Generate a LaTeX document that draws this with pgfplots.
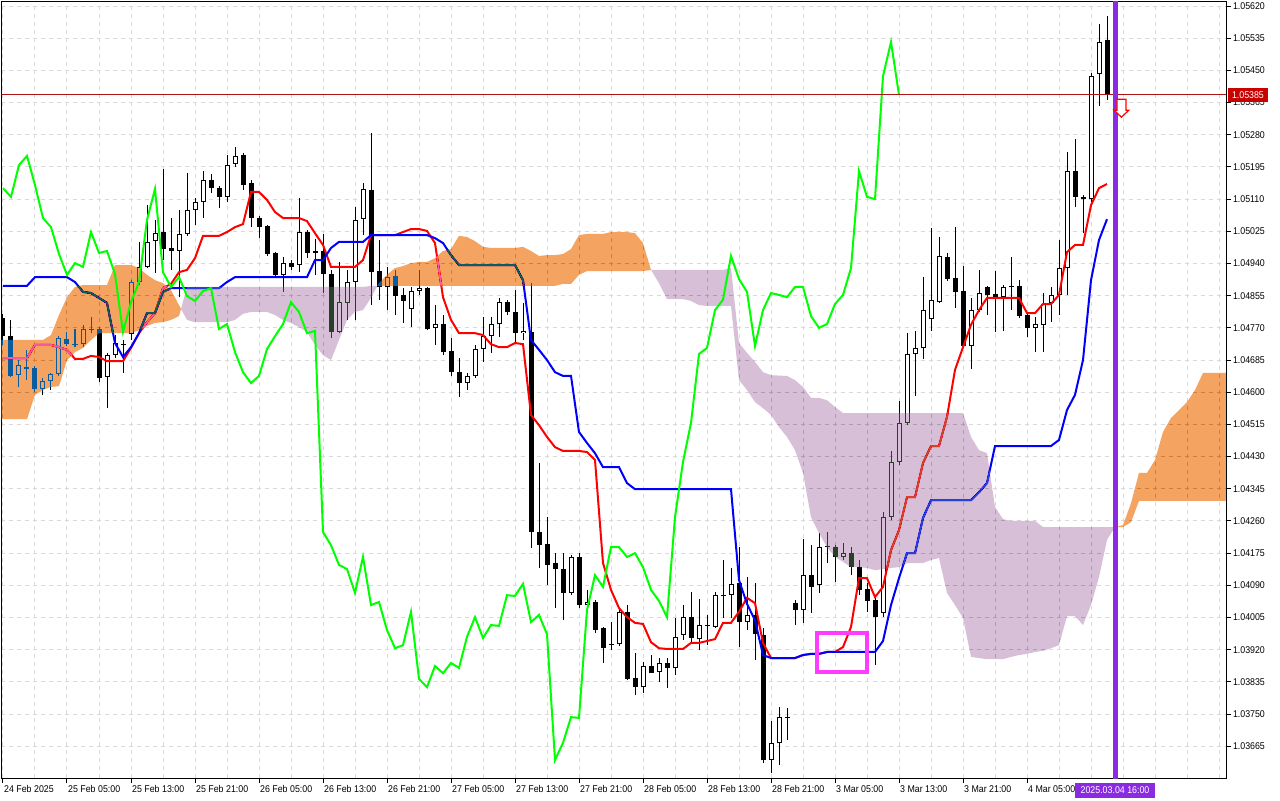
\documentclass[border=0pt]{standalone}
\usepackage{pgfplots}
\pgfplotsset{compat=1.18}
\usepackage{pgfplotstable}
\usepackage{fontspec}
\setmainfont{Liberation Sans}[FakeStretch=0.9]

\definecolor{tenkan}{RGB}{255,0,0}
\definecolor{kijun}{RGB}{0,0,255}
\definecolor{chikou}{RGB}{0,255,0}
% the cloud is drawn in difference mode: these invert to sandy brown / thistle on white
\definecolor{spanA}{RGB}{11,91,159}
\definecolor{spanB}{RGB}{39,64,39}
\definecolor{gridc}{RGB}{218,218,218}
\definecolor{vline}{RGB}{138,43,226}
\definecolor{boxc}{RGB}{255,60,255}
\definecolor{bidline}{RGB}{170,20,20}
\definecolor{bidbox}{RGB}{200,0,0}

\pgfdeclareplotmark{sellarrow}{%
  \pgfpathmoveto{\pgfqpoint{-2.25pt}{0pt}}%
  \pgfpathlineto{\pgfqpoint{2.25pt}{0pt}}%
  \pgfpathlineto{\pgfqpoint{2.25pt}{-5.5pt}}%
  \pgfpathlineto{\pgfqpoint{3.75pt}{-5.5pt}}%
  \pgfpathlineto{\pgfqpoint{0pt}{-9pt}}%
  \pgfpathlineto{\pgfqpoint{-3.75pt}{-5.5pt}}%
  \pgfpathlineto{\pgfqpoint{-2.25pt}{-5.5pt}}%
  \pgfpathclose
  \pgfusepathqfillstroke}

% EURUSD H1, bar 0 = 24 Feb 21:00
\pgfplotstableread{
i o h l c
0 1.04796 1.04807 1.04725 1.04748
1 1.04748 1.04791 1.04640 1.04643
2 1.04645 1.04685 1.04614 1.04672
3 1.04667 1.04711 1.04632 1.04661
4 1.04664 1.04669 1.04601 1.04608
5 1.04608 1.04638 1.04593 1.04630
6 1.04630 1.04651 1.04606 1.04648
7 1.04648 1.04748 1.04643 1.04743
8 1.04741 1.04759 1.04722 1.04727
9 1.04725 1.04767 1.04719 1.04727
10 1.04727 1.04778 1.04719 1.04767
11 1.04764 1.04799 1.04756 1.04767
12 1.04767 1.04772 1.04627 1.04638
13 1.04640 1.04704 1.04558 1.04698
14 1.04698 1.04751 1.04690 1.04730
15 1.04725 1.04738 1.04651 1.04727
16 1.04754 1.04896 1.04738 1.04891
17 1.04891 1.04997 1.04883 1.04931
18 1.04931 1.05094 1.04928 1.04997
19 1.04999 1.05055 1.04915 1.05020
20 1.05023 1.05190 1.04949 1.04978
21 1.04981 1.05060 1.04923 1.04973
22 1.04973 1.05081 1.04851 1.05018
23 1.05018 1.05179 1.05013 1.05081
24 1.05081 1.05113 1.05042 1.05102
25 1.05102 1.05184 1.05060 1.05160
26 1.05160 1.05176 1.05126 1.05139
27 1.05139 1.05145 1.05087 1.05116
28 1.05116 1.05226 1.05102 1.05200
29 1.05203 1.05248 1.05195 1.05224
30 1.05226 1.05232 1.05134 1.05147
31 1.05153 1.05160 1.05036 1.05060
32 1.05060 1.05065 1.05007 1.05036
33 1.05039 1.05042 1.04960 1.04965
34 1.04968 1.04970 1.04904 1.04910
35 1.04910 1.04957 1.04865 1.04941
36 1.04941 1.04949 1.04923 1.04931
37 1.04936 1.05113 1.04917 1.05023
38 1.05023 1.05028 1.04954 1.04968
39 1.04968 1.05005 1.04910 1.04973
40 1.04973 1.05018 1.04862 1.04912
41 1.04912 1.04923 1.04743 1.04759
42 1.04759 1.04944 1.04756 1.04838
43 1.04836 1.04923 1.04791 1.04891
44 1.04891 1.05089 1.04791 1.05055
45 1.05057 1.05153 1.05015 1.05137
46 1.05134 1.05285 1.04830 1.04917
47 1.04920 1.05002 1.04844 1.04878
48 1.04878 1.04931 1.04817 1.04904
49 1.04907 1.04923 1.04804 1.04854
50 1.04857 1.04875 1.04783 1.04841
51 1.04820 1.04878 1.04772 1.04867
52 1.04867 1.04923 1.04857 1.04875
53 1.04875 1.04878 1.04764 1.04767
54 1.04770 1.04830 1.04725 1.04780
55 1.04780 1.04804 1.04698 1.04706
56 1.04709 1.04743 1.04643 1.04653
57 1.04653 1.04690 1.04587 1.04624
58 1.04624 1.04651 1.04606 1.04643
59 1.04643 1.04725 1.04638 1.04714
60 1.04714 1.04799 1.04680 1.04748
61 1.04748 1.04799 1.04704 1.04780
62 1.04780 1.04849 1.04746 1.04838
63 1.04838 1.04844 1.04804 1.04812
64 1.04812 1.04870 1.04733 1.04756
65 1.04756 1.04836 1.04738 1.04762
66 1.04759 1.04888 1.04189 1.04231
67 1.04231 1.04413 1.04136 1.04196
68 1.04199 1.04270 1.04091 1.04144
69 1.04149 1.04175 1.04030 1.04133
70 1.04133 1.04175 1.03998 1.04070
71 1.04070 1.04170 1.04064 1.04165
72 1.04165 1.04175 1.04030 1.04038
73 1.04038 1.04078 1.04025 1.04046
74 1.04046 1.04051 1.03964 1.03972
75 1.03977 1.03980 1.03885 1.03924
76 1.03935 1.03993 1.03919 1.03932
77 1.03935 1.04030 1.03930 1.04020
78 1.04020 1.04038 1.03840 1.03843
79 1.03845 1.03911 1.03800 1.03821
80 1.03821 1.03888 1.03806 1.03877
81 1.03877 1.03906 1.03858 1.03858
82 1.03861 1.03898 1.03835 1.03885
83 1.03885 1.03898 1.03819 1.03872
84 1.03872 1.04004 1.03853 1.03954
85 1.03959 1.04038 1.03946 1.04006
86 1.04006 1.04072 1.03938 1.03951
87 1.03948 1.04054 1.03919 1.03985
88 1.03985 1.04012 1.03932 1.03983
89 1.03980 1.04072 1.03977 1.04064
90 1.04064 1.04157 1.04004 1.04062
91 1.04064 1.04136 1.04004 1.04094
92 1.04096 1.04191 1.03927 1.03993
93 1.03993 1.04112 1.03972 1.04012
94 1.04012 1.04096 1.03893 1.03961
95 1.03959 1.03977 1.03621 1.03629
96 1.03629 1.03732 1.03594 1.03674
97 1.03674 1.03769 1.03615 1.03742
98 1.03742 1.03766 1.03682 1.03740
99 1.04043 1.04051 1.03985 1.04025
100 1.04025 1.04212 1.03991 1.04117
101 1.04117 1.04196 1.04017 1.04086
102 1.04091 1.04228 1.04070 1.04191
103 1.04194 1.04231 1.04149 1.04191
104 1.04191 1.04196 1.04099 1.04165
105 1.04165 1.04202 1.04157 1.04175
106 1.04175 1.04191 1.04117 1.04138
107 1.04138 1.04157 1.04064 1.04078
108 1.04080 1.04096 1.04020 1.04049
109 1.04051 1.04064 1.03880 1.04006
110 1.04017 1.04284 1.04006 1.04270
111 1.04270 1.04445 1.04263 1.04416
112 1.04416 1.04577 1.04408 1.04519
113 1.04519 1.04756 1.04513 1.04701
114 1.04701 1.04762 1.04590 1.04717
115 1.04717 1.04904 1.04688 1.04817
116 1.04793 1.05034 1.04762 1.04844
117 1.04838 1.05010 1.04836 1.04960
118 1.04957 1.04968 1.04894 1.04899
119 1.04902 1.05036 1.04822 1.04865
120 1.04867 1.04933 1.04717 1.04722
121 1.04722 1.04849 1.04661 1.04817
122 1.04817 1.04923 1.04812 1.04862
123 1.04878 1.04881 1.04804 1.04857
124 1.04859 1.04920 1.04759 1.04851
125 1.04851 1.04883 1.04762 1.04878
126 1.04881 1.04957 1.04817 1.04878
127 1.04881 1.04896 1.04796 1.04801
128 1.04804 1.04809 1.04746 1.04770
129 1.04770 1.04799 1.04706 1.04780
130 1.04778 1.04862 1.04706 1.04833
131 1.04836 1.04878 1.04785 1.04857
132 1.04857 1.05002 1.04804 1.04928
133 1.04928 1.05234 1.04857 1.05184
134 1.05184 1.05269 1.05089 1.05116
135 1.05116 1.05121 1.05020 1.05110
136 1.05110 1.05443 1.05102 1.05435
137 1.05440 1.05572 1.05356 1.05525
138 1.05530 1.05594 1.05372 1.05385
}\candles

% Tenkan-sen (t) and Kijun-sen (k)
\pgfplotstableread{
i t k
0 1.04690 1.04881
1 1.04690 1.04881
2 1.04690 1.04881
3 1.04690 1.04881
4 1.04725 1.04904
5 1.04725 1.04904
6 1.04725 1.04904
7 1.04719 1.04904
8 1.04712 1.04904
9 1.04688 1.04891
10 1.04688 1.04865
11 1.04696 1.04862
12 1.04693 1.04849
13 1.04682 1.04836
14 1.04682 1.04730
15 1.04682 1.04693
16 1.04717 1.04719
17 1.04756 1.04756
18 1.04785 1.04809
19 1.04809 1.04809
20 1.04875 1.04865
21 1.04886 1.04875
22 1.04917 1.04875
23 1.04923 1.04875
24 1.04954 1.04875
25 1.05013 1.04875
26 1.05013 1.04875
27 1.05013 1.04875
28 1.05023 1.04891
29 1.05036 1.04904
30 1.05044 1.04904
31 1.05129 1.04904
32 1.05129 1.04904
33 1.05108 1.04904
34 1.05076 1.04904
35 1.05060 1.04904
36 1.05060 1.04904
37 1.05060 1.04904
38 1.05052 1.04904
39 1.05020 1.04949
40 1.04989 1.04949
41 1.04931 1.04981
42 1.04931 1.04997
43 1.04931 1.04997
44 1.04931 1.04997
45 1.04949 1.04997
46 1.05015 1.05015
47 1.05015 1.05015
48 1.05015 1.05015
49 1.05015 1.05015
50 1.05023 1.05015
51 1.05031 1.05015
52 1.05031 1.05015
53 1.05026 1.05015
54 1.04994 1.05007
55 1.04851 1.04994
56 1.04791 1.04962
57 1.04756 1.04936
58 1.04756 1.04936
59 1.04756 1.04936
60 1.04751 1.04936
61 1.04727 1.04936
62 1.04719 1.04936
63 1.04719 1.04936
64 1.04730 1.04936
65 1.04727 1.04896
66 1.04540 1.04738
67 1.04513 1.04712
68 1.04482 1.04685
69 1.04455 1.04653
70 1.04445 1.04643
71 1.04445 1.04643
72 1.04445 1.04495
73 1.04442 1.04466
74 1.04421 1.04439
75 1.04149 1.04402
76 1.04078 1.04402
77 1.04030 1.04402
78 1.04006 1.04360
79 1.03991 1.04344
80 1.03988 1.04344
81 1.03940 1.04344
82 1.03924 1.04344
83 1.03922 1.04344
84 1.03922 1.04344
85 1.03922 1.04344
86 1.03938 1.04344
87 1.03938 1.04344
88 1.03943 1.04344
89 1.03948 1.04344
90 1.03991 1.04344
91 1.03991 1.04344
92 1.04020 1.04104
93 1.04057 1.04041
94 1.04043 1.03998
95 1.03938 1.03906
96 1.03898 1.03898
97 1.03898 1.03898
98 1.03898 1.03898
99 1.03898 1.03898
100 1.03906 1.03906
101 1.03909 1.03909
102 1.03909 1.03909
103 1.03914 1.03914
104 1.03914 1.03914
105 1.03927 1.03914
106 1.03980 1.03914
107 1.04109 1.03914
108 1.04109 1.03914
109 1.04059 1.03914
110 1.04086 1.03943
111 1.04183 1.04038
112 1.04236 1.04109
113 1.04323 1.04175
114 1.04323 1.04175
115 1.04413 1.04268
116 1.04458 1.04315
117 1.04458 1.04315
118 1.04535 1.04315
119 1.04659 1.04315
120 1.04719 1.04315
121 1.04778 1.04315
122 1.04817 1.04336
123 1.04849 1.04360
124 1.04849 1.04458
125 1.04849 1.04458
126 1.04849 1.04458
127 1.04849 1.04458
128 1.04809 1.04458
129 1.04809 1.04458
130 1.04833 1.04458
131 1.04833 1.04458
132 1.04857 1.04474
133 1.04970 1.04553
134 1.04989 1.04593
135 1.04989 1.04685
136 1.05094 1.04896
137 1.05139 1.05002
138 1.05150 1.05057
}\ichimoku

% Chikou span (close shifted 26 bars back)
\pgfplotstableread{
i v
0 1.05139
1 1.05116
2 1.05200
3 1.05224
4 1.05147
5 1.05060
6 1.05036
7 1.04965
8 1.04910
9 1.04941
10 1.04931
11 1.05023
12 1.04968
13 1.04973
14 1.04912
15 1.04759
16 1.04838
17 1.04891
18 1.05055
19 1.05137
20 1.04917
21 1.04878
22 1.04904
23 1.04854
24 1.04841
25 1.04867
26 1.04875
27 1.04767
28 1.04780
29 1.04706
30 1.04653
31 1.04624
32 1.04643
33 1.04714
34 1.04748
35 1.04780
36 1.04838
37 1.04812
38 1.04756
39 1.04762
40 1.04231
41 1.04196
42 1.04144
43 1.04133
44 1.04070
45 1.04165
46 1.04038
47 1.04046
48 1.03972
49 1.03924
50 1.03932
51 1.04020
52 1.03843
53 1.03821
54 1.03877
55 1.03858
56 1.03885
57 1.03872
58 1.03954
59 1.04006
60 1.03951
61 1.03985
62 1.03983
63 1.04064
64 1.04062
65 1.04094
66 1.03993
67 1.04012
68 1.03961
69 1.03629
70 1.03674
71 1.03742
72 1.03740
73 1.04025
74 1.04117
75 1.04086
76 1.04191
77 1.04191
78 1.04165
79 1.04175
80 1.04138
81 1.04078
82 1.04049
83 1.04006
84 1.04270
85 1.04416
86 1.04519
87 1.04701
88 1.04717
89 1.04817
90 1.04844
91 1.04960
92 1.04899
93 1.04865
94 1.04722
95 1.04817
96 1.04862
97 1.04857
98 1.04851
99 1.04878
100 1.04878
101 1.04801
102 1.04770
103 1.04780
104 1.04833
105 1.04857
106 1.04928
107 1.05184
108 1.05116
109 1.05110
110 1.05435
111 1.05525
112 1.05385
}\chikoutab

\begin{document}
\begin{tikzpicture}
\useasboundingbox (0,0) rectangle (640pt,400pt);
\fill[white] (0,0) rectangle (640pt,400pt);
\begin{axis}[
  at={(0.7pt,11pt)}, anchor=south west,
  scale only axis, width=612.3pt, height=388.25pt,
  xmin=-0.2, xmax=152.875, ymin=1.035812, ymax=1.056319,
  axis line style={line width=0.5pt, black},
  tick align=outside,
  major tick length=2.5pt,
  minor tick length=0pt,
  tick style={black, line width=0.5pt},
  xtick pos=bottom, ytick pos=right, yticklabel pos=right,
  xtick={0,8,...,128},
  xticklabels={24 Feb 2025,25 Feb 05:00,25 Feb 13:00,25 Feb 21:00,26 Feb 05:00,26 Feb 13:00,26 Feb 21:00,27 Feb 05:00,27 Feb 13:00,27 Feb 21:00,28 Feb 05:00,28 Feb 13:00,28 Feb 21:00,3 Mar 05:00,3 Mar 13:00,3 Mar 21:00,4 Mar 05:00},
  minor xtick={4,12,...,124,132,136,140,144,148,152},
  ytick={1.03665,1.0375,1.03835,1.0392,1.04005,1.0409,1.04175,1.0426,1.04345,1.0443,1.04515,1.046,1.04685,1.0477,1.04855,1.0494,1.05025,1.0511,1.05195,1.0528,1.05365,1.0545,1.05535,1.0562},
  yticklabels={1.03665,1.03750,1.03835,1.03920,1.04005,1.04090,1.04175,1.04260,1.04345,1.04430,1.04515,1.04600,1.04685,1.04770,1.04855,1.04940,1.05025,1.05110,1.05195,1.05280,1.05365,1.05450,1.05535,1.05620},
  xmajorgrids=true, xminorgrids=true, ymajorgrids=true,
  major grid style={gridc, line width=0.5pt, dash pattern=on 2pt off 2pt},
  minor grid style={gridc, line width=0.5pt, dash pattern=on 2pt off 2pt},
  tick label style={font=\fontsize{4.9}{5.5}\selectfont, black},
  xticklabel style={anchor=north west, inner sep=0pt, xshift=0.4pt, yshift=-1pt},
  yticklabel style={anchor=west, inner sep=0pt, xshift=0.8pt},
]
% wicks
\addplot[draw=none, mark=none,
  error bars/.cd, y dir=plus, y explicit, error mark=none,
  error bar style={draw=black, line width=0.5pt}]
  table[x=i, y=l, y error plus expr=\thisrow{h}-\thisrow{l}] {\candles};
% bodies
\addplot[draw=none, mark=none,
  error bars/.cd, y dir=plus, y explicit, error mark=none,
  error bar style={draw=black, line width=2.5pt}]
  table[x=i, y expr={min(\thisrow{o},\thisrow{c})},
        y error plus expr={max(abs(\thisrow{o}-\thisrow{c}),0.000026)}] {\candles};
% hollow inside of rising candles
\addplot[draw=none, mark=none,
  error bars/.cd, y dir=plus, y explicit, error mark=none,
  error bar style={draw=white, line width=1.5pt}]
  table[x=i, y expr={\thisrow{o}+0.000026},
        y error plus expr={max(\thisrow{c}-\thisrow{o}-0.000053,0)}] {\candles};

\addplot[tenkan, line width=1pt, mark=none] table[x=i, y=t] {\ichimoku};
\addplot[kijun, line width=1pt, mark=none] table[x=i, y=k] {\ichimoku};

% Kumo, span A above B
\addplot[draw=none, fill=spanA, blend mode=difference] coordinates {
(-0.2,1.04738) (5,1.04738) (6,1.04751) (7,1.04804) (8,1.04851) (9,1.04878) (10,1.04883) (13,1.04883)
(14,1.04936) (16,1.04936) (17,1.04928) (18,1.04910) (19,1.04896) (20,1.04888) (21,1.04870) (22,1.04830) (22.25,1.04820)
(22,1.04801) (21,1.04791) (20,1.04785) (19,1.04783) (18,1.04775) (17,1.04764) (16,1.04756) (12,1.04756)
(11,1.04738) (10,1.04717) (9,1.04706) (8,1.04685) (7,1.04616) (6,1.04614) (5,1.04606) (4,1.04593) (3,1.04529) (-0.2,1.04529)
} -- cycle;
\addplot[draw=none, fill=spanB, blend mode=difference] coordinates {
(22.25,1.04820) (23,1.04878) (45,1.04878) (46,1.04881) (46.8,1.04881)
(46,1.04849) (45,1.04817) (44,1.04812) (43,1.04791) (42,1.04738) (41,1.04685) (40,1.04698) (39,1.04725)
(38,1.04759) (37,1.04772) (36,1.04783) (35,1.04791) (34,1.04804) (33,1.04812) (31,1.04812) (30,1.04807)
(29,1.04791) (28,1.04785) (24,1.04785) (23,1.04791)
} -- cycle;
\addplot[draw=none, fill=spanA, blend mode=difference] coordinates {
(46.8,1.04881) (47,1.04888) (48,1.04910) (49,1.04928) (50,1.04933) (51,1.04941) (52,1.04944) (53,1.04944)
(54,1.04954) (55,1.04973) (56,1.04978) (57,1.05013) (58,1.05010) (59,1.04999) (60,1.04984) (61,1.04981)
(64,1.04981) (65,1.04984) (66,1.04973) (67,1.04960) (68,1.04962) (69,1.04962) (70,1.04965) (71,1.04978)
(72,1.05015) (73,1.05018) (75,1.05018) (76,1.05023) (78,1.05023) (79,1.05020) (80,1.04994) (81,1.04923)
(80,1.04920) (73,1.04920) (72,1.04910) (71,1.04886) (70,1.04886) (69,1.04881) (47,1.04881)
} -- cycle;
\addplot[draw=none, fill=spanB, blend mode=difference] coordinates {
(81,1.04923) (90,1.04923) (91,1.04928) (92,1.04730) (93,1.04704) (94,1.04680) (95,1.04653) (96,1.04645)
(98,1.04643) (99,1.04632) (100,1.04614) (101,1.04585) (102,1.04585) (103,1.04579) (104,1.04561) (105,1.04545)
(120,1.04545) (121,1.04482) (122,1.04447) (123,1.04439) (124,1.04297) (125,1.04265) (126,1.04260) (129,1.04260)
(130,1.04244) (139,1.04244)
(138,1.04210) (137,1.04112) (136,1.04038) (135,1.03985) (134,1.04009) (133,1.04009) (132,1.03932) (131,1.03924)
(130,1.03917) (129,1.03914) (128,1.03909) (127,1.03906) (126,1.03901) (125,1.03895) (123,1.03895) (122,1.03898)
(121,1.03901) (120,1.04004) (119,1.04038) (118,1.04070) (117,1.04162) (116,1.04157) (115,1.04149) (113,1.04149)
(112,1.04138) (111,1.04136) (110,1.04133) (109,1.04130) (108,1.04136) (107,1.04138) (106,1.04138) (105,1.04152)
(104,1.04165) (103,1.04191) (102,1.04228) (101,1.04270) (100,1.04387) (99,1.04447) (98,1.04482) (97,1.04508)
(96,1.04540) (95,1.04558) (94,1.04574) (93,1.04606) (92,1.04632) (91,1.04828) (88,1.04828) (87,1.04830)
(86,1.04841) (85,1.04846) (83,1.04846) (82,1.04888)
} -- cycle;
\addplot[draw=none, fill=spanA, blend mode=difference] coordinates {
(139,1.04244) (140,1.04249) (141,1.04307) (142,1.04387) (143,1.04387) (144,1.04421) (145,1.04495) (146,1.04532)
(147,1.04553) (148,1.04574) (149,1.04606) (150,1.04651) (153,1.04651)
(153,1.04313) (142,1.04313) (141,1.04257) (140,1.04244)
} -- cycle;

\addplot[chikou, line width=1pt, mark=none] table[x=i, y=v] {\chikoutab};

% bid line, marked box, sell arrow, time line
\addplot[bidline, line width=0.5pt, mark=none] coordinates {(-0.2,1.05385) (152.875,1.05385)};
\addplot[boxc, line width=2pt, mark=none] coordinates {(101.75,1.03964) (108,1.03964) (108,1.03861) (101.75,1.03861)} -- cycle;
\addplot[vline, line width=2.5pt, mark=none] coordinates {(139,1.0355) (139,1.0566)};
\addplot[only marks, mark=sellarrow, mark options={draw=red, fill=white, line width=0.6pt}] coordinates {(139.8,1.05374)};

\coordinate (bid) at (axis cs:152.875,1.05385);
\coordinate (vt) at (axis cs:139,1.035812);
\end{axis}
\node[fill=bidbox, text=white, inner xsep=2pt, inner ysep=1.8pt, anchor=west,
  font=\fontsize{4.9}{5.5}\selectfont] at ([xshift=0.8pt]bid) {1.05385};
\node[fill=vline, text=white, inner xsep=2.6pt, inner ysep=2pt, anchor=north,
  font=\fontsize{4.9}{5.5}\selectfont] at ([yshift=-2.3pt]vt) {2025.03.04 16:00};
\end{tikzpicture}
\end{document}
